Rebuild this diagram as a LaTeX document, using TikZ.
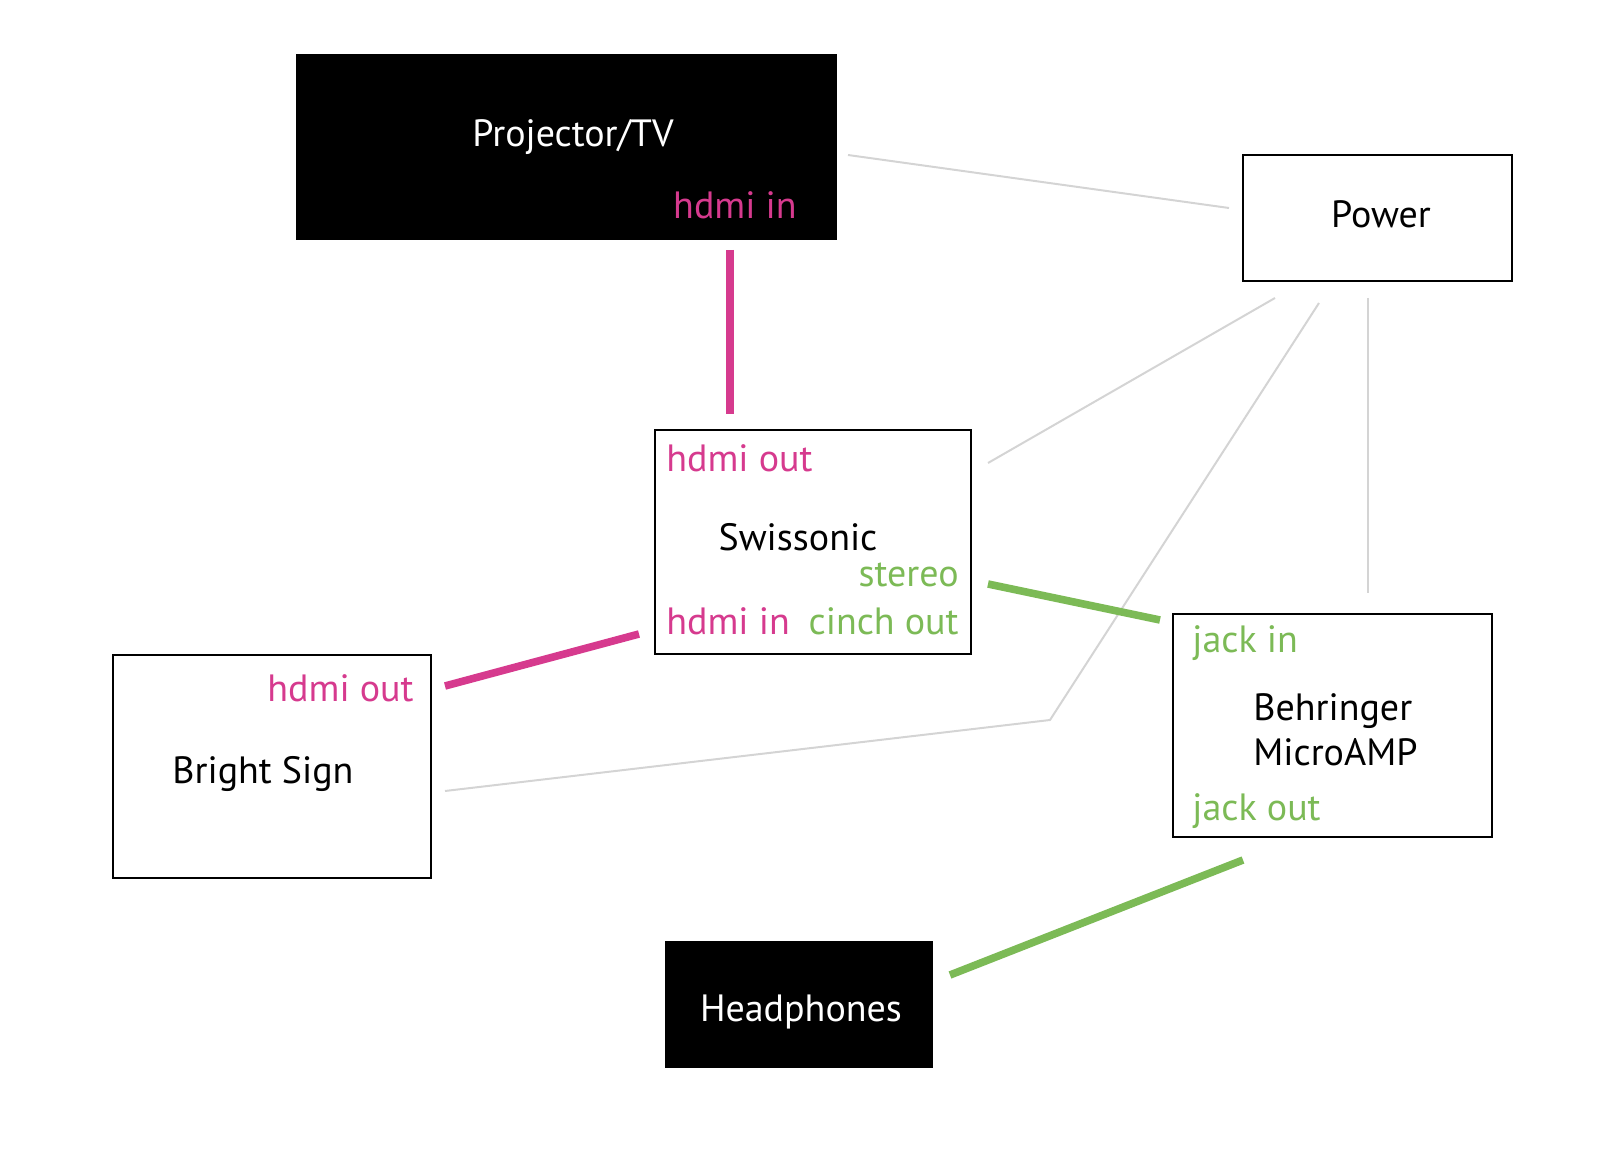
\documentclass[tikz,border=0pt]{standalone}
\usepackage{fontspec}
\setmainfont{PT Sans}
\usetikzlibrary{positioning}
\definecolor{hdmipink}{RGB}{214,58,142}
\definecolor{jackgreen}{RGB}{124,186,86}
\definecolor{powergray}{RGB}{212,212,212}

\begin{document}
\begin{tikzpicture}[
  x=0.5pt, y=-0.5pt,
  font=\fontsize{19}{22}\selectfont,
  box/.style={draw=black, line width=1pt, fill=white, inner sep=0pt},
  dark/.style={draw=black, fill=black, inner sep=0pt},
  lbl/.style={inner sep=0pt, anchor=base},
  port/.style={lbl, text=hdmipink},
  aport/.style={lbl, text=jackgreen},
  hdmi/.style={draw=hdmipink, line width=3.8pt},
  jack/.style={draw=jackgreen, line width=3.8pt},
  pwr/.style={draw=powergray, line width=1pt},
]
\useasboundingbox (0,0) rectangle (1624,1150);

% devices
\node[dark, minimum width=270pt, minimum height=92.5pt] (proj) at (566,146.5) {};
\node[box, minimum width=134.5pt, minimum height=63pt] (power) at (1377.5,218) {};
\node[box, minimum width=158pt, minimum height=112pt] (swiss) at (813,542) {};
\node[box, minimum width=159pt, minimum height=111.5pt] (bright) at (272,766.5) {};
\node[box, minimum width=159.5pt, minimum height=111.5pt] (amp) at (1332.5,725.5) {};
\node[dark, minimum width=133.5pt, minimum height=63pt] (phones) at (798.5,1004) {};

% names
\node[lbl, text=white] (projname) at (573,147) {Projector/TV};
\node[lbl] (powername) at (1381,228) {Power};
\node[lbl] (swissname) at (798,550) {Swissonic};
\node[lbl] (brightname) at (263,783) {Bright Sign};
\node[lbl, anchor=base west] (ampname) at (1253,720) {Behringer};
\node[lbl, anchor=base west] (ampname2) at (1253,765) {MicroAMP};
\node[lbl, text=white] (phonesname) at (801,1021) {Headphones};

% ports
\node[port, anchor=base east] (projin) at (797,218.5) {hdmi in};
\node[port, anchor=base west] (swissout) at (666,472) {hdmi out};
\node[port, anchor=base west] (swissin) at (666,634) {hdmi in};
\node[aport, anchor=base east] (swisscinch) at (959,634) {cinch out};
\node[aport, anchor=base east] (swissstereo) at (959,586) {stereo};
\node[port, anchor=base east] (brightout) at (414,701) {hdmi out};
\node[aport, anchor=base west] (ampin) at (1192,652) {jack in};
\node[aport, anchor=base west] (ampout) at (1192,820) {jack out};

% cable ends
\coordinate (h1) at (730,250);
\coordinate (h2) at (730,414);
\coordinate (h3) at (639,634);
\coordinate (h4) at (445,686);
\coordinate (j1) at (988,584);
\coordinate (j2) at (1160,620);
\coordinate (j3) at (1243,860);
\coordinate (j4) at (950,975);
\coordinate (p1) at (848,155);
\coordinate (p2) at (1229,208);
\coordinate (p3) at (1275,298);
\coordinate (p4) at (988,463);
\coordinate (p5) at (1319,303);
\coordinate (p6) at (1050,720);
\coordinate (p7) at (445,791);
\coordinate (p8) at (1368,298);
\coordinate (p9) at (1368,593);

% power
\draw[pwr] (p1) -- (p2);
\draw[pwr] (p3) -- (p4);
\draw[pwr] (p5) -- (p6) -- (p7);
\draw[pwr] (p8) -- (p9);

% signal
\draw[hdmi] (h1) -- (h2);
\draw[hdmi] (h3) -- (h4);
\draw[jack] (j1) -- (j2);
\draw[jack] (j3) -- (j4);

\end{tikzpicture}
\end{document}
